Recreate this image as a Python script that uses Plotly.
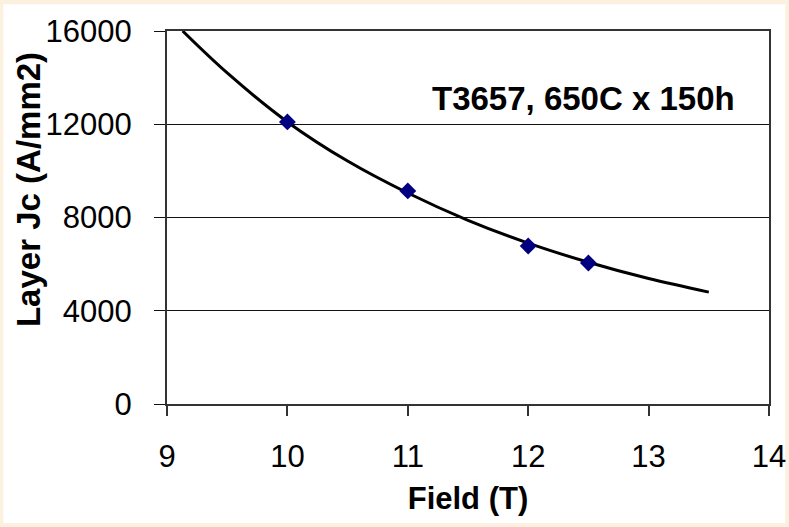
import plotly.graph_objects as go

# Measured critical current density vs field
field_meas = [10, 11, 12, 12.5]
jc_meas = [12100, 9140, 6780, 6050]

# Fitted trend curve, sampled along the field range
field_fit = [9.13, 9.5, 10, 10.5, 11, 11.5, 12, 12.5, 13, 13.5]
jc_fit = [16000, 14200, 12100, 10420, 9050, 7880, 6900, 6080, 5380, 4800]

x_ticks = [9, 10, 11, 12, 13, 14]
y_ticks = [0, 4000, 8000, 12000, 16000]

FONT = "Liberation Sans, Arial, sans-serif"

fig = go.Figure()

fig.add_trace(go.Scatter(
    x=field_fit, y=jc_fit, mode="lines",
    line=dict(color="black", width=3, shape="spline", smoothing=1.0),
    hoverinfo="skip", showlegend=False,
))

fig.add_trace(go.Scatter(
    x=field_meas, y=jc_meas, mode="markers",
    marker=dict(symbol="diamond", size=13, color="#000080"),
    showlegend=False,
))

fig.update_layout(
    width=789, height=527,
    margin=dict(l=167, r=20, t=31, b=123, autoexpand=False),
    paper_bgcolor="#FBF1DE",
    plot_bgcolor="white",
    font=dict(family=FONT, size=31, color="black"),
    showlegend=False,
    shapes=[dict(
        type="rect", xref="paper", yref="paper", layer="below",
        x0=-0.272, x1=1.027, y0=-0.319, y1=1.072,
        fillcolor="white", line=dict(width=0),
    )],
    annotations=[
        dict(text="<b>T3657, 650C x 150h</b>", x=12.46, y=13100,
             xref="x", yref="y", showarrow=False,
             xanchor="center", yanchor="middle",
             font=dict(size=33, color="black")),
        dict(text="<b>Layer Jc (A/mm2)</b>", x=-0.229, y=0.574,
             xref="paper", yref="paper", showarrow=False, textangle=-90,
             xanchor="center", yanchor="middle",
             font=dict(size=33, color="black")),
    ],
)

fig.update_xaxes(
    range=[9, 14], tickvals=x_ticks, ticktext=[str(v) for v in x_ticks],
    ticks="outside", ticklen=10, tickwidth=2, tickcolor="#333333",
    showline=True, linecolor="#333333", linewidth=2, mirror=True,
    showgrid=False, zeroline=False, ticklabelstandoff=14, automargin=False,
    title=dict(text="<b>Field (T)</b>", standoff=14, font=dict(size=31)),
)

fig.update_yaxes(
    range=[0, 16000], tickvals=y_ticks, ticktext=[str(v) for v in y_ticks],
    ticks="outside", ticklen=11, tickwidth=1.3, tickcolor="#111111",
    showline=True, linecolor="#333333", linewidth=2, mirror=True,
    showgrid=True, gridcolor="#111111", gridwidth=1.3,
    zeroline=False, ticklabelstandoff=16, automargin=False,
)

fig.write_html("out.html")
